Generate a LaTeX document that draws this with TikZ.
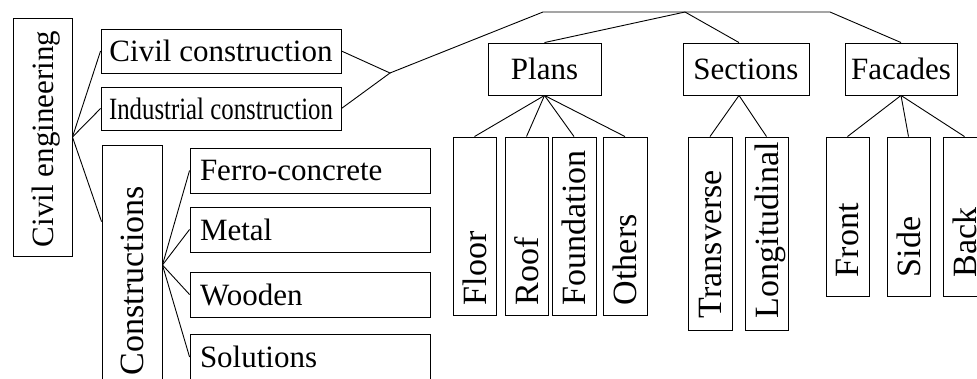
\documentclass[tikz,border=0pt]{standalone}
\usepackage{fontspec}
\setmainfont{Liberation Serif}
\usetikzlibrary{positioning}
\usetikzlibrary{calc}

% rotated label, set from the bottom of a fixed length
\newcommand{\uptext}[2]{\rotatebox{90}{\makebox[#1][l]{\raisebox{0pt}[\height][0pt]{#2}}}}

\begin{document}
\begin{tikzpicture}[x=1pt, y=-1pt, line width=0.9pt,
    every node/.style={draw, rectangle, inner sep=0pt, font=\fontsize{31}{36}\selectfont},
    hbox/.style={minimum width=240, minimum height=44},
    lbox/.style={text width=220pt, inner xsep=10pt, align=left, minimum height=45},
    topbox/.style={minimum height=52},
    vbox/.style={minimum width=43, font=\fontsize{34}{40}\selectfont}]

      \useasboundingbox (0,0) rectangle (977,378);
      \clip (0,0) rectangle (977,378);

      \node[minimum width=59, minimum height=238] (ce) at (42.5,137) {\uptext{220pt}{Civil engineering}};

      \node[hbox] (civ) at (221,51) {Civil construction};
      \node[hbox, minimum height=43] (ind) at (221,108.5) {\scalebox{0.8}[1]{Industrial construction}};
      \node[vbox, minimum width=60, minimum height=240] (cons) at (132,265) {\uptext{220pt}{Constructions}};

      \node[lbox] (ferro) at (310,170.5) {Ferro-concrete};
      \node[lbox] (metal) at (310,229.5) {Metal};
      \node[lbox] (wood) at (310,294.5) {Wooden};
      \node[lbox, minimum height=46] (sol) at (310,357) {Solutions};

      \node[topbox, minimum width=113] (plans) at (544.5,69) {Plans};
      \node[topbox, minimum width=126] (sec) at (746,69) {Sections};
      \node[topbox, minimum width=112] (fac) at (901,69) {Facades};

      \node[vbox, minimum height=178] (floor) at (474.5,226) {\uptext{158pt}{Floor}};
      \node[vbox, minimum height=178] (roof) at (526.5,226) {\uptext{158pt}{Roof}};
      \node[vbox, minimum width=44, minimum height=178] (found) at (574,226) {\uptext{158pt}{Foundation}};
      \node[vbox, minimum width=44, minimum height=178] (others) at (625,226) {\uptext{158pt}{Others}};

      \node[vbox, minimum width=44, minimum height=193] (trans) at (710,233.5) {\uptext{169pt}{Transverse}};
      \node[vbox, minimum height=193] (longi) at (766.5,233.5) {\uptext{169pt}{Longitudinal}};

      \node[vbox, minimum height=159] (front) at (847.5,216.5) {\uptext{121pt}{Front}};
      \node[vbox, minimum height=159] (side) at (908.5,216.5) {\uptext{121pt}{Side}};
      \node[vbox, minimum height=159] (back) at (964.5,216.5) {\uptext{121pt}{Back}};

      % left fans
      \draw (ce.east) -- (civ.west);
      \draw (ce.east) -- (ind.west);
      \draw (ce.east) -- ($(cons.north west)!0.32!(cons.south west)$);
      \foreach \n in {ferro, metal, wood, sol} {
        \draw (cons.east) -- (\n.west);
      }

      % joint line over the drawings
      \coordinate (join) at (390,73);
      \coordinate (t1) at (543,12);
      \coordinate (t2) at (685,12);
      \coordinate (t3) at (830,12);

      \draw (civ.east) -- (join) -- (ind.east);
      \draw (join) -- (t1) -- (t3) -- (fac.north);
      \draw (plans.north) -- (t2) -- ($(sec.north)+(-7,0)$);

      % lower fans
      \foreach \n in {floor, roof, found, others} {
        \draw (plans.south) -- (\n.north);
      }
      \foreach \n in {trans, longi} {
        \draw ($(sec.south)+(-7,0)$) -- (\n.north);
      }
      \foreach \n in {front, side, back} {
        \draw (fac.south) -- (\n.north);
      }

\end{tikzpicture}
\end{document}
